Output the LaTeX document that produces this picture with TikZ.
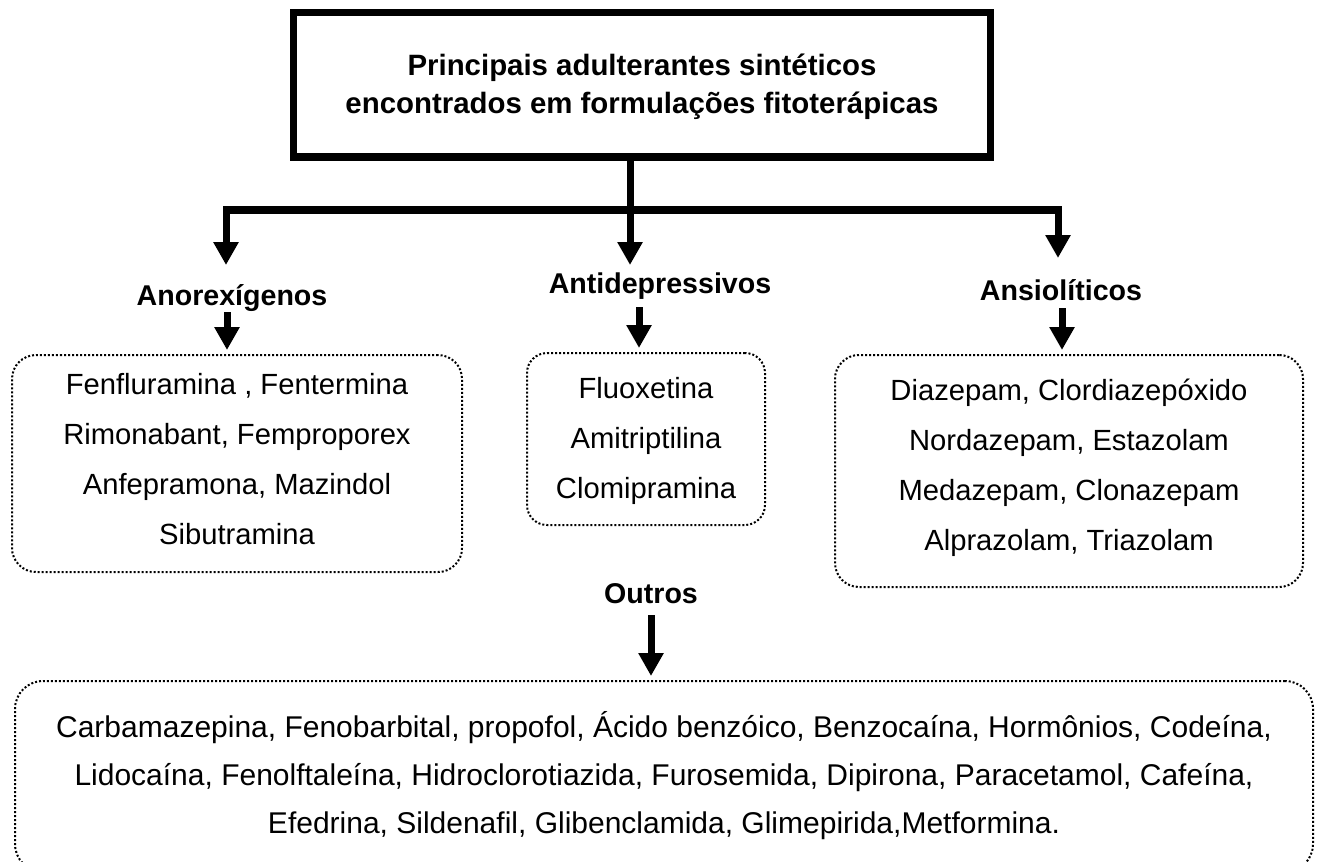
\documentclass[tikz,border=0pt]{standalone}
\usepackage{fontspec}
\setmainfont{Liberation Sans}
\usetikzlibrary{arrows.meta}
\newcommand{\mytopstrut}{\rule{0pt}{13.5pt}}
\newcommand{\mybotstrut}[1]{\rule[-#1]{0pt}{0pt}}
\begin{document}
\begin{tikzpicture}[x=0.5pt,y=-0.5pt,
  conn/.style={line width=3.5pt},
  arr/.style={line width=3.5pt,-{Triangle[width=12pt,length=11.5pt]}},
  dbox/.style={draw,line width=1pt,dash pattern=on 1pt off 1pt,rounded corners=12pt,
    align=center,font=\fontsize{14.6}{25}\selectfont,inner sep=0pt},
  lbl/.style={font=\bfseries\fontsize{14.3}{17}\selectfont,inner sep=0pt,anchor=base},
  titlebox/.style={draw,line width=3.75pt,align=center,inner sep=0pt,
    font=\bfseries\fontsize{14.7}{19}\selectfont}]
\useasboundingbox (0,0) rectangle (1320,861);
\clip (0,0) rectangle (1320,861);

% title
\node[titlebox,minimum width=348.5pt,minimum height=72.25pt] (title) at (642,85)
  {\mytopstrut Principais adulterantes sintéticos\\encontrados em formulações fitoterápicas\mybotstrut{4.3pt}};

% junction and first-level arrows
\coordinate (j) at (630,210);
\coordinate (tA) at (226,265);
\coordinate (tB) at (630,265);
\coordinate (tC) at (1058,258);
\draw[conn] (title.south -| j) -- (j);
\draw[arr] (j) -| (tA);
\draw[arr] (j) -- (tB);
\draw[arr] (j) -| (tC);

% category labels
\node[lbl] (anor) at (232,305) {Anorexígenos};
\node[lbl] (antid) at (660,293) {Antidepressivos};
\node[lbl] (ansio) at (1061,300) {Ansiolíticos};
\node[lbl] (outros) at (651,603) {Outros};

% boxes
\node[dbox,minimum width=225pt,minimum height=108.5pt] (boxA) at (237,463.5)
  {\mytopstrut Fenfluramina , Fentermina\\Rimonabant, Femproporex\\Anfepramona, Mazindol\\Sibutramina\mybotstrut{7.8pt}};
\node[dbox,rounded corners=10pt,minimum width=119pt,minimum height=86pt] (boxB) at (646,439)
  {\mytopstrut Fluoxetina\\Amitriptilina\\Clomipramina\mybotstrut{3.8pt}};
\node[dbox,minimum width=234pt,minimum height=116pt] (boxC) at (1069,471)
  {\mytopstrut Diazepam, Clordiazepóxido\\Nordazepam, Estazolam\\Medazepam, Clonazepam\\Alprazolam, Triazolam\mybotstrut{8.8pt}};
\node[dbox,rounded corners=14pt,font=\fontsize{15}{24}\selectfont,minimum width=649pt,minimum height=95.5pt] (boxD) at (664,776.5)
  {\mytopstrut Carbamazepina, Fenobarbital, propofol, Ácido benzóico, Benzocaína, Hormônios, Codeína,\\
   Lidocaína, Fenolftaleína, Hidroclorotiazida, Furosemida, Dipirona, Paracetamol, Cafeína,\\
   Efedrina, Sildenafil, Glibenclamida, Glimepirida,Metformina.\mybotstrut{4.8pt}};

% second-level arrows
\coordinate (sA) at (227,312);
\coordinate (sB) at (639,307);
\coordinate (sC) at (1062,308);
\coordinate (sD) at (651,615);
\draw[arr,shorten >=2pt] (sA) -- (boxA.north -| sA);
\draw[arr,shorten >=2pt] (sB) -- (boxB.north -| sB);
\draw[arr,shorten >=2pt] (sC) -- (boxC.north -| sC);
\draw[arr,shorten >=2pt] (sD) -- (boxD.north -| sD);
\end{tikzpicture}
\end{document}
